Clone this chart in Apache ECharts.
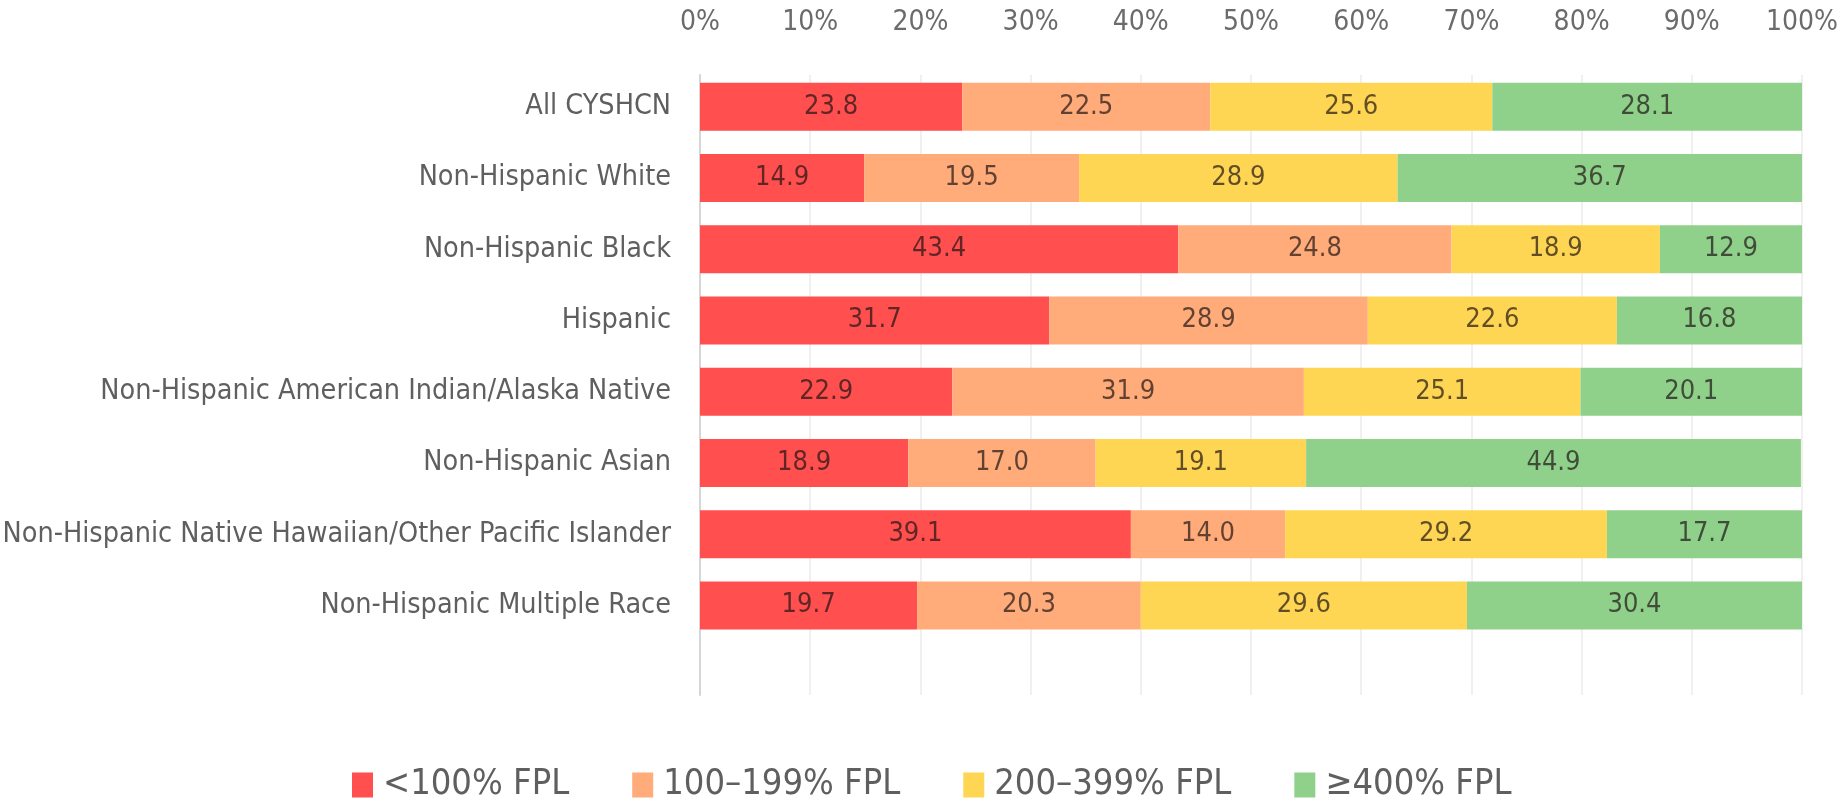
<!DOCTYPE html>
<html>
<head>
<meta charset="utf-8">
<script src="https://cdn.jsdelivr.net/npm/echarts@6/dist/echarts.min.js"></script>
<style>
html,body{margin:0;padding:0;background:#fff;}
#chart{width:1839px;height:798px;}
</style>
</head>
<body>
<div id="chart"></div>
<script>
var categories = [
  'All CYSHCN',
  'Non-Hispanic White',
  'Non-Hispanic Black',
  'Hispanic',
  'Non-Hispanic American Indian/Alaska Native',
  'Non-Hispanic Asian',
  'Non-Hispanic Native Hawaiian/Other Pacific Islander',
  'Non-Hispanic Multiple Race'
];
var seriesNames = ['<100% FPL', '100\u2013199% FPL', '200\u2013399% FPL', '\u2265400% FPL'];
var below100 = [23.8, 14.9, 43.4, 31.7, 22.9, 18.9, 39.1, 19.7];
var fpl100to199 = [22.5, 19.5, 24.8, 28.9, 31.9, 17.0, 14.0, 20.3];
var fpl200to399 = [25.6, 28.9, 18.9, 22.6, 25.1, 19.1, 29.2, 29.6];
var atLeast400 = [28.1, 36.7, 12.9, 16.8, 20.1, 44.9, 17.7, 30.4];
var xTickMax = 100;
var xTickStep = 10;

var FONT = "'Liberation Sans Narrow', 'DejaVu Sans Condensed', 'Liberation Sans', sans-serif";
var colors = ['#FF4F4F', '#FFAB7A', '#FFD653', '#8FD18B'];
var allValues = [below100, fpl100to199, fpl200to399, atLeast400];

var chart = echarts.init(document.getElementById('chart'), null, {renderer: 'canvas'});
var series = allValues.map(function (vals, i) {
  return {
    name: seriesNames[i],
    type: 'bar',
    stack: 'total',
    xAxisIndex: 0,
    yAxisIndex: 0,
    barWidth: 48,
    data: vals,
    itemStyle: {color: colors[i]},
    label: {
      show: true,
      position: 'inside',
      fontFamily: FONT,
      fontSize: 27,
      color: 'rgba(30,20,20,0.7)',
      formatter: function (p) { return p.value.toFixed(1); }
    },
    emphasis: {disabled: true}
  };
});

chart.setOption({
  animation: false,
  color: colors,
  textStyle: {fontFamily: FONT},
  grid: [
    {left: 700, right: 37, top: 71, height: 570, containLabel: false, outerBoundsMode: 'none'},
    {left: 700, right: 37, top: 75, bottom: 103, containLabel: false, outerBoundsMode: 'none'}
  ],
  xAxis: [
    {type: 'value', gridIndex: 0, min: 0, max: xTickMax, show: false},
    {
      type: 'value', gridIndex: 1, position: 'top', min: 0, max: xTickMax, interval: xTickStep,
      axisLine: {show: false}, axisTick: {show: false},
      axisLabel: {formatter: '{value}%', fontFamily: FONT, fontSize: 28, color: '#6b6b6b', margin: 38},
      splitLine: {show: true, lineStyle: {color: '#ebebeb', width: 1.5}}
    }
  ],
  yAxis: [
    {
      type: 'category', gridIndex: 0, data: categories, inverse: true,
      axisLine: {show: false}, axisTick: {show: false},
      axisLabel: {fontFamily: FONT, fontSize: 28.5, color: '#5f5f5f', margin: 29}
    },
    {
      type: 'value', gridIndex: 1, min: 0, max: 1,
      axisLine: {show: true, lineStyle: {color: '#d6d6d6', width: 2}},
      axisLabel: {show: false}, axisTick: {show: false}, splitLine: {show: false}
    }
  ],
  legend: {
    data: seriesNames,
    top: 762,
    left: 347,
    icon: 'rect',
    itemWidth: 21,
    itemHeight: 25,
    itemGap: 63,
    textStyle: {fontFamily: FONT, fontSize: 36, color: '#5f5f5f', padding: [0, 0, 0, 5]},
    selectedMode: false
  },
  series: series
});
</script>
</body>
</html>
